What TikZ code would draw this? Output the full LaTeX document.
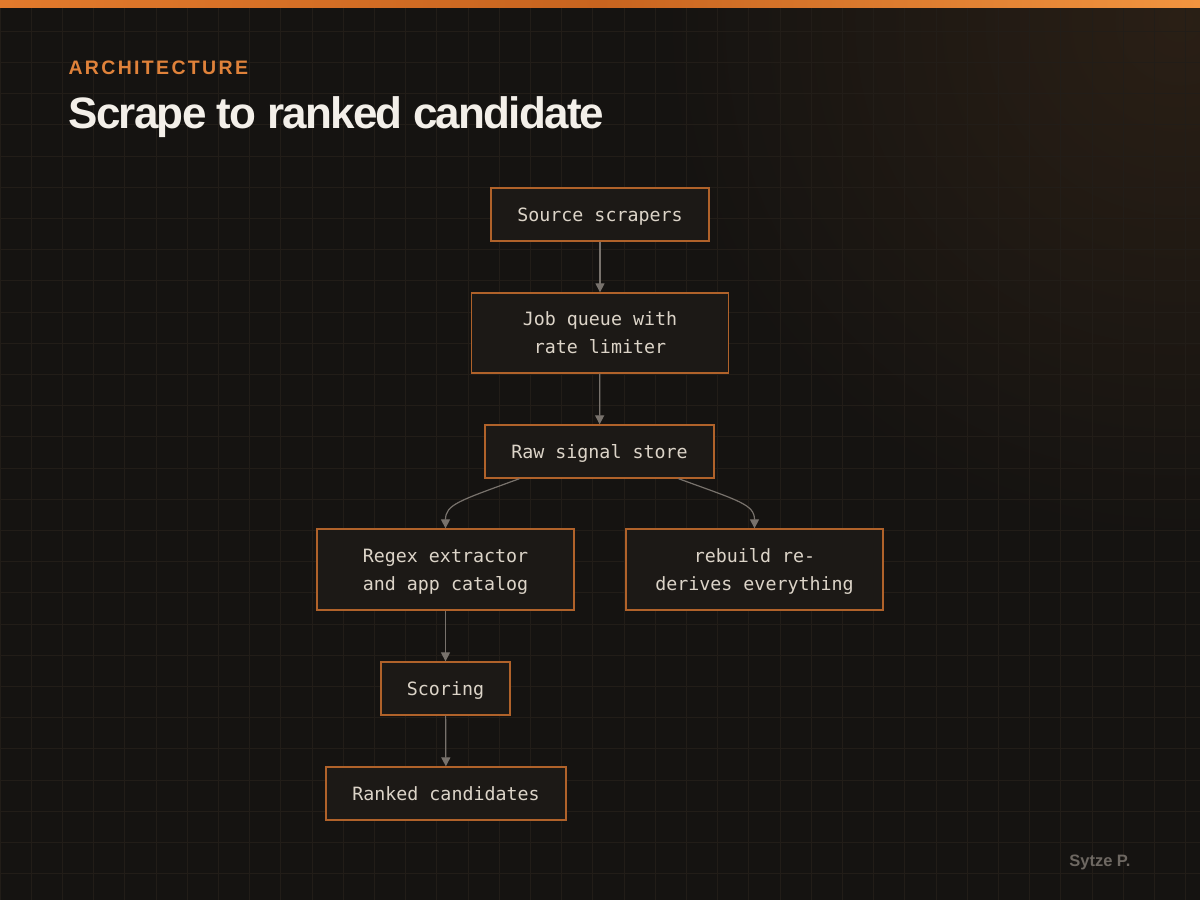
\documentclass[tikz,border=0pt]{standalone}
\usepackage{fontspec}
\setmainfont{Liberation Sans}
\newfontfamily\monof{DejaVu Sans Mono}
\newfontfamily\titlef{Liberation Sans}[LetterSpace=-4]
\newfontfamily\labelf{Liberation Sans}[LetterSpace=12]
\usetikzlibrary{arrows.meta}
\definecolor{bg}{HTML}{151311}
\definecolor{glow}{HTML}{2A1F15}
\definecolor{gridc}{HTML}{221D18}
\definecolor{barL}{HTML}{E27A2C}
\definecolor{barM}{HTML}{C8641F}
\definecolor{barR}{HTML}{F2943F}
\definecolor{accent}{HTML}{E0823A}
\definecolor{titlec}{HTML}{F3EFE9}
\definecolor{nodefill}{HTML}{1C1916}
\definecolor{nodeborder}{HTML}{B0622A}
\definecolor{nodetext}{HTML}{DCD4C8}
\definecolor{edgec}{HTML}{78726C}
\definecolor{footc}{HTML}{6E6862}
\tikzset{
  box/.style={draw=nodeborder, fill=nodefill, line width=1.3pt, text=nodetext,
    font=\monof\fontsize{18.3}{28}\selectfont, align=center, inner sep=0pt, text depth=0pt},
  edge/.style={draw=edgec, line width=1.2pt, -{Triangle[width=9pt,length=9pt]}}
}
\begin{document}
\begin{tikzpicture}[x=1pt,y=-1pt]
\useasboundingbox (0,0) rectangle (1200,900);
\fill[bg] (0,0) rectangle (1200,900);
\begin{scope}
  \clip (0,0) rectangle (1200,900);
  \shade[inner color=glow, outer color=bg] (1180,20) circle (520pt);
  \foreach \i in {0,...,38} \draw[gridc, line width=1pt] (\i*31.2,0) -- (\i*31.2,900);
  \foreach \j in {0,...,29} \draw[gridc, line width=1pt] (0,\j*31.2) -- (1200,\j*31.2);
\end{scope}
\shade[left color=barL, right color=barR, middle color=barM] (0,0) rectangle (1200,7);

\node[anchor=base west, text=accent, font=\labelf\bfseries\fontsize{19.5}{20}\selectfont] (kicker) at (65,74) {ARCHITECTURE};
\node[anchor=base west, text=titlec, font=\titlef\bfseries\fontsize{44}{50}\selectfont] (title) at (65,128) {Scrape to ranked candidate};
\node[anchor=base east, text=footc, font=\bfseries\fontsize{16.5}{18}\selectfont] (foot) at (1134,866) {Sytze P.};

\node[box, minimum width=218pt, minimum height=53pt] (src) at (600,214.5) {Source scrapers};
\node[box, minimum width=257pt, minimum height=80pt] (queue) at (600,333) {Job queue with~\\rate limiter};
\node[box, minimum width=229pt, minimum height=53pt] (raw) at (599.5,451.5) {Raw signal store};
\node[box, minimum width=257pt, minimum height=81pt] (regex) at (445.5,569.5) {Regex extractor~\\and app catalog};
\node[box, minimum width=257pt, minimum height=81pt] (rebuild) at (754.5,569.5) {rebuild re-\\derives everything};
\node[box, minimum width=129pt, minimum height=53pt] (score) at (445.5,688.5) {Scoring};
\node[box, minimum width=240pt, minimum height=53pt] (ranked) at (446,793.5) {Ranked candidates};

\draw[edge] (src) -- (queue);
\draw[edge] (queue) -- (raw);
\draw[edge] ([xshift=-80pt]raw.south) .. controls +(-60,22) and +(0,-24) .. (regex.north);
\draw[edge] ([xshift=79pt]raw.south) .. controls +(60,22) and +(0,-24) .. (rebuild.north);
\draw[edge] (regex) -- (score);
\draw[edge] (score) -- (ranked);
\end{tikzpicture}
\end{document}
